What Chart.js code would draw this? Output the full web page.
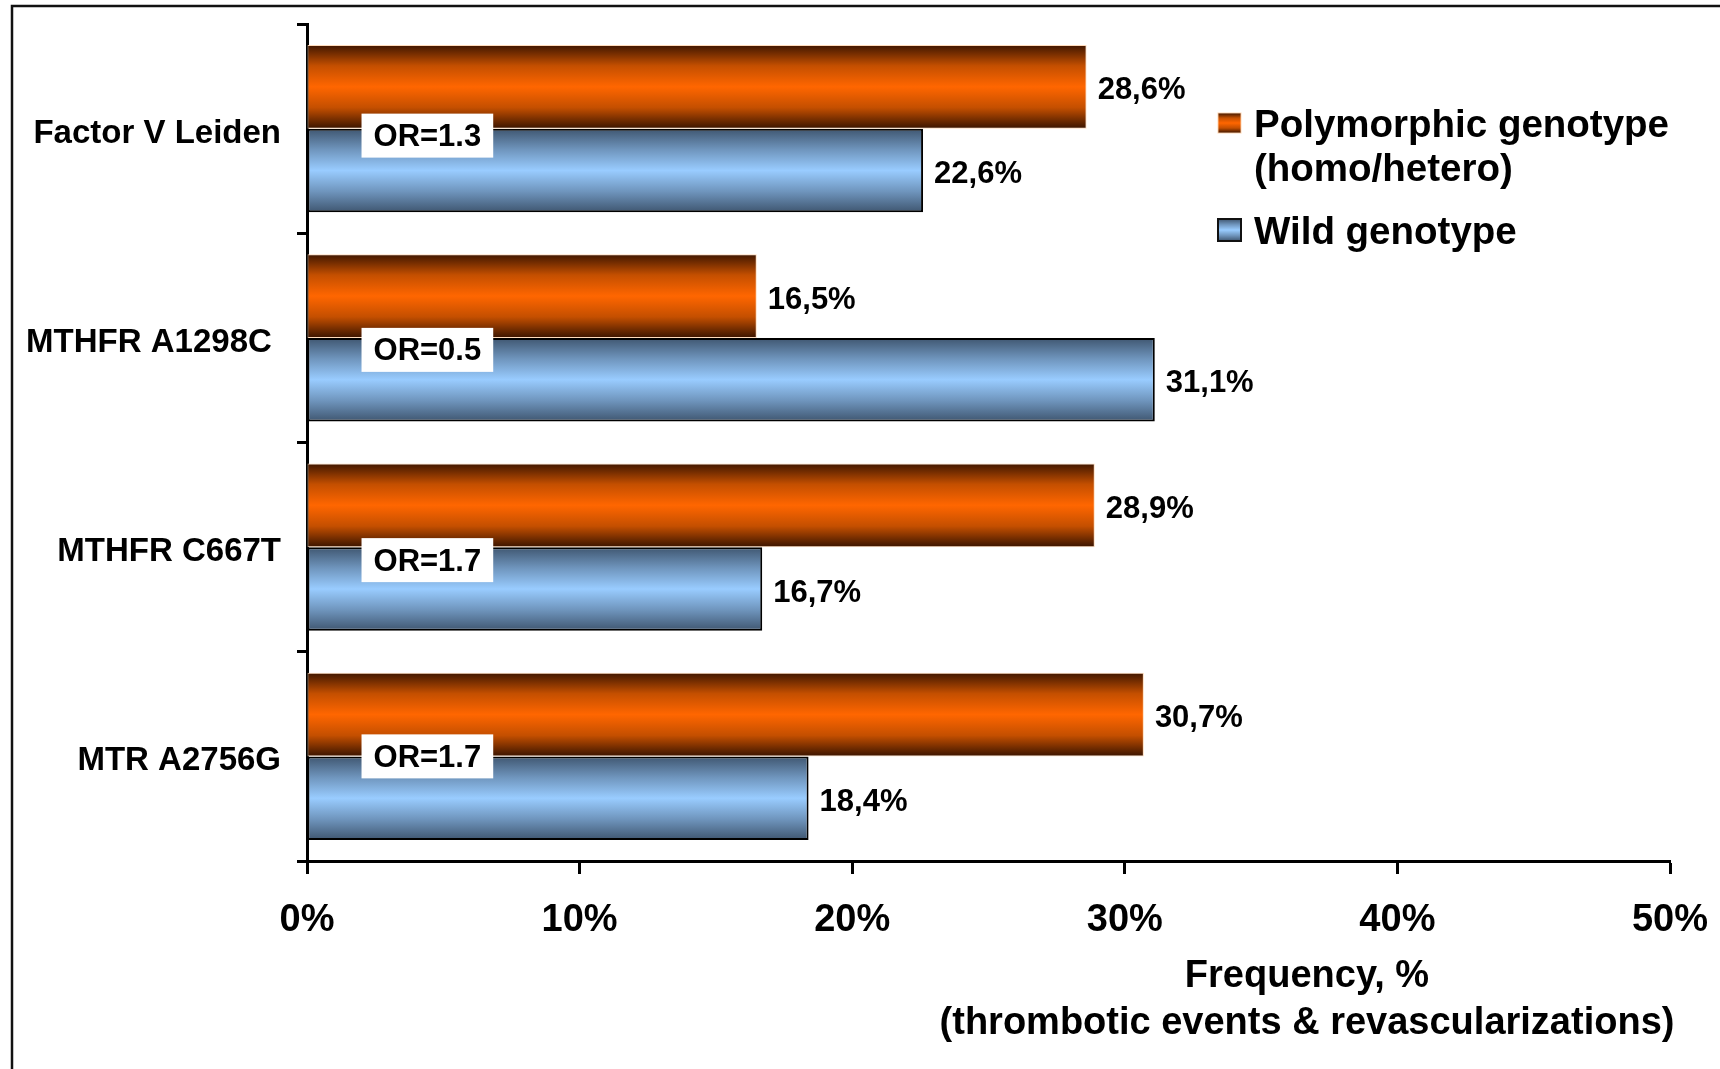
<!DOCTYPE html>
<html>
<head>
<meta charset="utf-8">
<script src="https://cdn.jsdelivr.net/npm/chart.js@4/dist/chart.umd.min.js"></script>
<style>
  html, body { margin: 0; padding: 0; background: #fff; }
  canvas { display: block; }
</style>
</head>
<body>
<canvas id="genoChart" width="1720" height="1069"></canvas>
<script>
// data
var categories = ['Factor V Leiden', 'MTHFR A1298C ', 'MTHFR C667T', 'MTR A2756G'];
var polymorphic = [28.6, 16.5, 28.9, 30.7];
var wild = [22.6, 31.1, 16.7, 18.4];
var oddsRatios = ['OR=1.3', 'OR=0.5', 'OR=1.7', 'OR=1.7'];
var seriesNames = [['Polymorphic genotype', '(homo/hetero)'], ['Wild genotype']];
var axisTitle = ['Frequency, %', '(thrombotic events & revascularizations)'];

var FONT = "'Liberation Sans', Arial, sans-serif";

var orangeStops = ['#3f1600', '#c44f00', '#ff6600', '#c44f00', '#3a1400'];
var blueStops = ['#3f5670', '#6f95bd', '#99ccff', '#6f95bd', '#3f5670'];

function makeGradient(c, top, bottom, stops) {
    var g = c.createLinearGradient(0, top, 0, bottom);
    g.addColorStop(0, stops[0]);
    g.addColorStop(0.25, stops[1]);
    g.addColorStop(0.5, stops[2]);
    g.addColorStop(0.75, stops[3]);
    g.addColorStop(1, stops[4]);
    return g;
}

function barFill(which, stops) {
    return function (context) {
        var chart = context.chart;
        var y = chart.scales.y;
        if (!chart.chartArea || !y || context.dataIndex === undefined) return stops[2];
        var center = y.getPixelForValue(context.dataIndex);
        var half = (y.bottom - y.top) / categories.length * 0.8 / 2;
        var top = which === 0 ? center - half : center;
        return makeGradient(chart.ctx, top, top + half, stops);
    };
}

var extras = {
    id: 'extras',
    beforeDraw: function (chart) {
        var c = chart.ctx;
        c.save();
        c.strokeStyle = '#111';
        c.lineWidth = 2.5;
        c.beginPath();
        c.moveTo(12, chart.height);
        c.lineTo(12, 6);
        c.lineTo(chart.width, 6);
        c.stroke();
        c.restore();
    },
    afterDatasetsDraw: function (chart) {
        var c = chart.ctx;
        var xs = chart.scales.x, ys = chart.scales.y;
        c.save();
        // value labels
        c.font = 'bold 31px ' + FONT;
        c.fillStyle = '#000';
        c.textBaseline = 'middle';
        c.textAlign = 'left';
        chart.data.datasets.forEach(function (ds, di) {
            chart.getDatasetMeta(di).data.forEach(function (bar, i) {
                var txt = ds.data[i].toFixed(1).replace('.', ',') + '%';
                c.fillText(txt, bar.x + 11, bar.y + 4);
            });
        });
        // odds ratio boxes
        var shift = [7, 12, 13, 0];
        oddsRatios.forEach(function (txt, i) {
            var w = c.measureText(txt).width + 24;
            var left = xs.getPixelForValue(2);
            var cy = ys.getPixelForValue(i) + shift[i];
            c.fillStyle = '#fff';
            c.fillRect(left, cy - 22, w, 44);
            c.fillStyle = '#000';
            c.fillText(txt, left + 12, cy + 2);
        });
        // axis title
        c.font = 'bold 38px ' + FONT;
        c.textAlign = 'center';
        var tx = chart.chartArea.right - 363;
        c.fillText(axisTitle[0], tx, 977);
        c.fillText(axisTitle[1], tx, 1024);
        // legend
        var lx = chart.chartArea.right - 452;
        var marks = [[113, 20, orangeStops, 'rgba(255,210,170,0.9)', 1, [126, 170]], [219, 22, blueStops, '#111', 2, [233]]];
        c.font = 'bold 38.5px ' + FONT;
        c.textAlign = 'left';
        marks.forEach(function (m, k) {
            c.fillStyle = makeGradient(c, m[0], m[0] + m[1], m[2]);
            c.fillRect(lx, m[0], 23, m[1]);
            c.strokeStyle = m[3];
            c.lineWidth = m[4];
            c.strokeRect(lx, m[0], 23, m[1]);
            c.fillStyle = '#000';
            seriesNames[k].forEach(function (line, j) {
                c.fillText(line, lx + 36, m[5][j]);
            });
        });
        c.restore();
    }
};

var ctx = document.getElementById('genoChart').getContext('2d');

var genoChart = new Chart(ctx, {
    type: 'bar',
    data: {
        labels: categories,
        datasets: [{
            label: seriesNames[0].join(' '),
            data: polymorphic,
            backgroundColor: barFill(0, orangeStops),
            borderColor: 'rgba(255,215,180,0.9)',
            borderWidth: 1,
            borderSkipped: false,
            categoryPercentage: 0.8,
            barPercentage: 1.0
        }, {
            label: seriesNames[1].join(' '),
            data: wild,
            backgroundColor: barFill(1, blueStops),
            borderColor: '#000',
            borderWidth: 2,
            borderSkipped: false,
            categoryPercentage: 0.8,
            barPercentage: 1.0
        }]
    },
    options: {
        indexAxis: 'y',
        responsive: false,
        animation: false,
        devicePixelRatio: 1,
        layout: { padding: { top: 24, right: 50, left: 0, bottom: 0 } },
        plugins: {
            legend: { display: false },
            tooltip: { enabled: false }
        },
        scales: {
            x: {
                min: 0,
                max: 50,
                ticks: {
                    stepSize: 10,
                    padding: 24,
                    color: '#000',
                    font: { family: FONT, size: 38, weight: 'bold' },
                    callback: function (v) { return v + '%'; }
                },
                grid: { drawOnChartArea: false, drawTicks: true, tickLength: 13, tickWidth: 3, color: '#000' },
                border: { display: true, color: '#000', width: 3 },
                afterFit: function (scale) {
                    scale.height = 208;
                    scale.paddingLeft = 0;
                    scale.paddingRight = 0;
                }
            },
            y: {
                ticks: {
                    padding: 16,
                    labelOffset: 5,
                    color: '#000',
                    font: { family: FONT, size: 33, weight: 'bold' }
                },
                grid: { drawOnChartArea: false, drawTicks: true, tickLength: 10, tickWidth: 3, color: '#000', offset: true },
                border: { display: true, color: '#000', width: 3 },
                afterFit: function (scale) {
                    scale.width = 307;
                    scale.paddingTop = 0;
                    scale.paddingBottom = 0;
                }
            }
        }
    },
    plugins: [extras]
});
</script>
</body>
</html>
